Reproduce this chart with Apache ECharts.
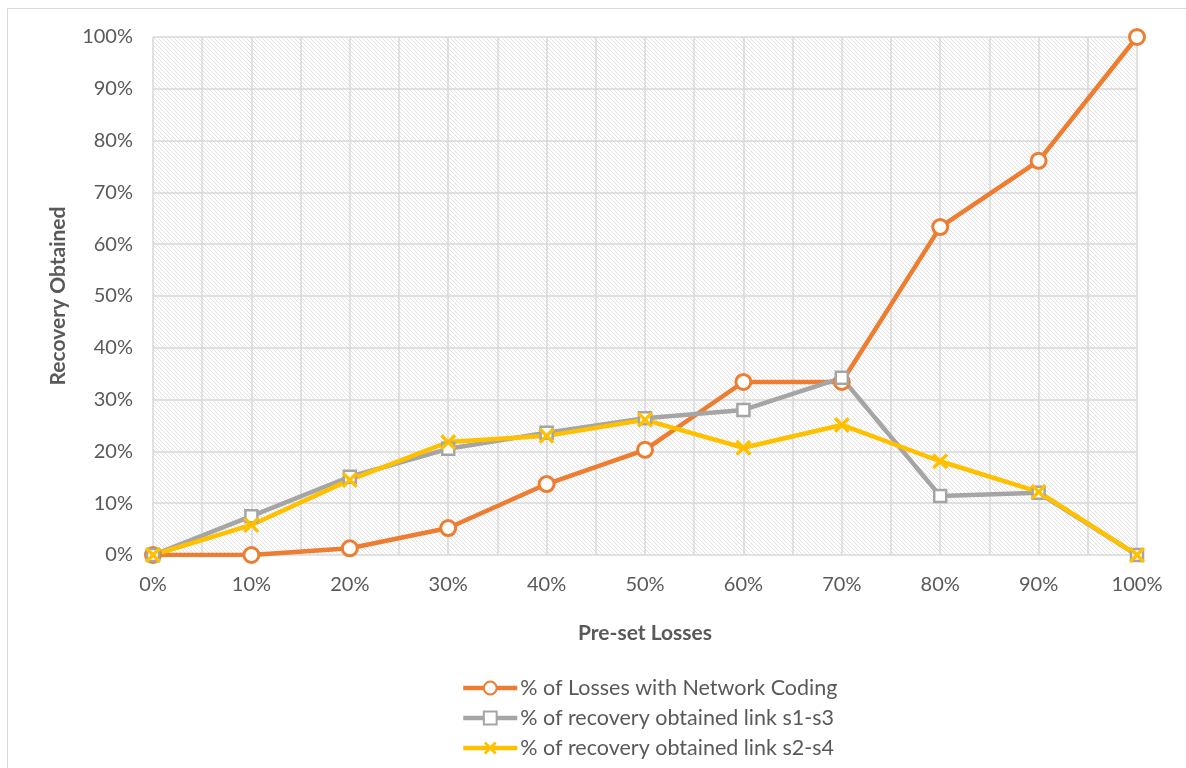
<!DOCTYPE html>
<html lang="en">
<head>
    <meta charset="UTF-8">
    <title>Recovery Obtained</title>
    <script src="https://cdn.jsdelivr.net/npm/echarts@6/dist/echarts.min.js"></script>
    <style>
        html, body { margin: 0; padding: 0; background: #fff; }
        #chart { width: 1186px; height: 768px; }
    </style>
</head>
<body>
    <div id="chart"></div>
<script>
    // pre-set losses (x, in %)
    var losses = [0, 10, 20, 30, 40, 50, 60, 70, 80, 90, 100];
    // % recovery values
    var withCoding = [0, 0, 1.3, 5.2, 13.7, 20.3, 33.4, 33.4, 63.3, 76.1, 100];
    var linkS1S3 = [0, 7.5, 15.1, 20.5, 23.6, 26.4, 28, 34.2, 11.4, 12, 0];
    var linkS2S4 = [0, 5.8, 14.5, 21.8, 23, 26.1, 20.7, 25.1, 18.1, 12.2, 0];
    var seriesNames = [
        '% of Losses with Network Coding',
        '% of recovery obtained link s1-s3',
        '% of recovery obtained link s2-s4'
    ];

    function pairs(vals) {
        return losses.map(function (x, i) { return [x, vals[i]]; });
    }

    // diagonal hatch for the plot background
    function hatch() {
        var c = document.createElement('canvas');
        c.width = 4; c.height = 4;
        var ctx = c.getContext('2d');
        var img = ctx.createImageData(4, 4);
        for (var y = 0; y < 4; y++) {
            for (var x = 0; x < 4; x++) {
                var k = (y * 4 + x) * 4;
                var g = ((x - y + 4) % 4 === 0) ? 226 : 255;
                img.data[k] = g; img.data[k + 1] = g; img.data[k + 2] = g; img.data[k + 3] = 255;
            }
        }
        ctx.putImageData(img, 0, 0);
        return c;
    }

    var FONT = 'Lato';
    var xMark = 'path://M1.5,0L5,3.5L8.5,0L10,1.5L6.5,5L10,8.5L8.5,10L5,6.5L1.5,10L0,8.5L3.5,5L0,1.5Z';

    var myChart = echarts.init(document.getElementById('chart'));
    var option = {
        animation: false,
        textStyle: { fontFamily: FONT },
        graphic: [{
            type: 'rect',
            shape: { x: 7.5, y: 8.5, width: 1300, height: 900 },
            style: { fill: 'none', stroke: '#d9d9d9', lineWidth: 1 },
            silent: true
        }],
        grid: {
            left: 153, top: 37, width: 984, height: 518,
            show: true,
            borderWidth: 0,
            backgroundColor: { image: hatch(), repeat: 'repeat' }
        },
        legend: {
            orient: 'vertical',
            left: 456, top: 672,
            itemWidth: 54, itemHeight: 16, itemGap: 8,
            lineStyle: { width: 4.5 },
            textStyle: { fontFamily: FONT, fontSize: 21.5, color: '#595959', padding: [0, 0, 0, -2] },
            data: seriesNames
        },
        xAxis: {
            type: 'value',
            min: 0, max: 100, interval: 10,
            name: 'Pre-set Losses',
            nameLocation: 'middle',
            nameGap: 68,
            nameTextStyle: { fontFamily: FONT, fontSize: 21, fontWeight: 'bold', color: '#595959' },
            axisLine: { show: false },
            axisTick: { show: false },
            axisLabel: { formatter: '{value}%', fontSize: 20, color: '#595959', margin: 20 },
            splitLine: { show: true, lineStyle: { color: '#d9d9d9', width: 1.5 } },
            minorTick: { show: false, splitNumber: 2 },
            minorSplitLine: { show: true, lineStyle: { color: '#d9d9d9', width: 1.5 } }
        },
        yAxis: {
            type: 'value',
            min: 0, max: 100, interval: 10,
            name: 'Recovery Obtained',
            nameLocation: 'middle',
            nameGap: 84,
            nameTextStyle: { fontFamily: FONT, fontSize: 21, fontWeight: 'bold', color: '#595959' },
            axisLine: { show: false },
            axisTick: { show: false },
            axisLabel: { formatter: '{value}%', fontSize: 20, color: '#595959', margin: 20 },
            splitLine: { show: true, lineStyle: { color: '#d9d9d9', width: 1.5 } }
        },
        series: [{
            name: seriesNames[0],
            type: 'line',
            data: pairs(withCoding),
            symbol: 'circle',
            symbolSize: 15,
            lineStyle: { color: '#ED7D31', width: 4.5 },
            itemStyle: { color: '#ffffff', borderColor: '#ED7D31', borderWidth: 3 }
        }, {
            name: seriesNames[1],
            type: 'line',
            data: pairs(linkS1S3),
            symbol: 'rect',
            symbolSize: 12,
            lineStyle: { color: '#A5A5A5', width: 4.5 },
            itemStyle: { color: '#ffffff', borderColor: '#A5A5A5', borderWidth: 2.5 }
        }, {
            name: seriesNames[2],
            type: 'line',
            data: pairs(linkS2S4),
            symbol: xMark,
            symbolSize: 16,
            lineStyle: { color: '#FFC000', width: 4.5 },
            itemStyle: { color: '#FFC000', borderWidth: 0 }
        }]
    };
    myChart.setOption(option);
</script>
</body>
</html>
